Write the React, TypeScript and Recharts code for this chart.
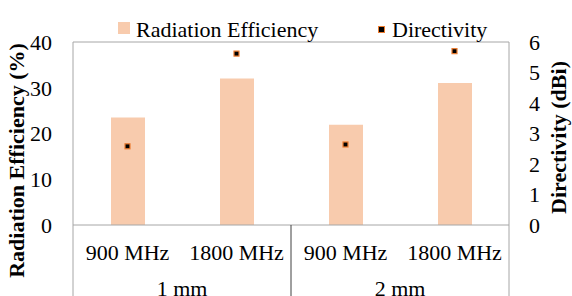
import {
  Bar,
  ComposedChart,
  ReferenceLine,
  Scatter,
  XAxis,
  YAxis,
} from "recharts";

const FREQUENCIES = ["900 MHz", "1800 MHz", "900 MHz", "1800 MHz"];
const THICKNESS = ["1 mm", "1 mm", "2 mm", "2 mm"];
const EFFICIENCY = [23.5, 32.0, 21.9, 31.05];
const DIRECTIVITY = [2.58, 5.62, 2.64, 5.7];
const LEFT_TICKS = [0, 10, 20, 30, 40];
const RIGHT_TICKS = [0, 1, 2, 3, 4, 5, 6];

const BAR_COLOR = "#F8CBAD";
const AXIS_COLOR = "#A6A6A6";
const FONT = "'Liberation Serif', 'Times New Roman', serif";
const FONT_SIZE = 22;

const data = FREQUENCIES.map((freq, i) => ({
  key: `${THICKNESS[i]}-${freq}`,
  freq,
  group: THICKNESS[i],
  efficiency: EFFICIENCY[i],
  directivity: DIRECTIVITY[i],
}));

function CategoryTick(props: any) {
  const { x, y, payload, index } = props;
  const half = payload?.offset ?? 54.5;
  const row = data[index];
  const isGroupStart = index === 0 || data[index - 1].group !== row.group;
  const axisY = y - 8;
  return (
    <g>
      <text x={x} y={y + 27} textAnchor="middle" fontSize={FONT_SIZE} style={{ fontFamily: FONT }} fill="#000">
        {row.freq}
      </text>
      {isGroupStart && (
        <>
          <line x1={x - half} y1={axisY} x2={x - half} y2={axisY + 80} stroke={index === 0 ? AXIS_COLOR : "#404040"} strokeWidth={1} />
          <text x={x + half} y={y + 63} textAnchor="middle" fontSize={FONT_SIZE} style={{ fontFamily: FONT }} fill="#000">
            {row.group}
          </text>
        </>
      )}
      {index === data.length - 1 && (
        <line x1={x + half} y1={axisY} x2={x + half} y2={axisY + 80} stroke={AXIS_COLOR} strokeWidth={1} />
      )}
    </g>
  );
}

function MarkerShape(props: any) {
  const { cx, cy } = props;
  return <rect x={cx - 2.5} y={cy - 2.5} width={5} height={5} fill="#000" stroke="#ED7D31" strokeWidth={1.2} />;
}

function LeftLabel(props: any) {
  const { viewBox } = props;
  const cx = viewBox.x + 16;
  const cy = viewBox.y + viewBox.height / 2 + 27;
  return (
    <text x={cx} y={cy} transform={`rotate(-90, ${cx}, ${cy})`} textAnchor="middle" dominantBaseline="central"
      fontSize={FONT_SIZE} fontWeight="bold" style={{ fontFamily: FONT }} fill="#000">
      Radiation Efficiency (%)
    </text>
  );
}

function RightLabel(props: any) {
  const { viewBox } = props;
  const cx = viewBox.x + 49;
  const cy = viewBox.y + viewBox.height / 2 + 4;
  return (
    <text x={cx} y={cy} transform={`rotate(-90, ${cx}, ${cy})`} textAnchor="middle" dominantBaseline="central"
      fontSize={FONT_SIZE} fontWeight="bold" style={{ fontFamily: FONT }} fill="#000">
      Directivity (dBi)
    </text>
  );
}

function ChartLegend() {
  return (
    <div style={{ position: "absolute", left: 0, top: 0, width: 572, height: 40, fontFamily: FONT, fontSize: FONT_SIZE, color: "#000" }}>
      <span style={{ position: "absolute", left: 118, top: 22, width: 12, height: 12, background: BAR_COLOR }} />
      <span style={{ position: "absolute", left: 136, top: 18, lineHeight: "24px", whiteSpace: "nowrap" }}>Radiation Efficiency</span>
      <span style={{ position: "absolute", left: 378, top: 26, width: 5, height: 5, background: "#000", border: "1px solid #ED7D31" }} />
      <span style={{ position: "absolute", left: 392, top: 18, lineHeight: "24px", whiteSpace: "nowrap" }}>Directivity</span>
    </div>
  );
}

const tickStyle = { fontSize: FONT_SIZE, fill: "#000", style: { fontFamily: FONT } };

export default function App() {
  return (
    <div style={{ position: "relative", width: 572, height: 296, background: "#fff", overflow: "hidden", fontFamily: FONT }}>
      <style>{`body{margin:0}`}</style>
      <ComposedChart
        width={572}
        height={296}
        data={data}
        margin={{ top: 42, right: 0, bottom: 0, left: 0 }}
      >
        <XAxis
          dataKey="key"
          xAxisId="cat"
          height={71}
          axisLine={{ stroke: AXIS_COLOR }}
          tickLine={false}
          interval={0}
          tick={<CategoryTick />}
        />
        <YAxis
          yAxisId="left"
          orientation="left"
          width={73}
          domain={[0, 40]}
          ticks={LEFT_TICKS}
          interval={0}
          axisLine={{ stroke: AXIS_COLOR }}
          tickLine={false}
          tick={tickStyle}
          tickMargin={15}
          label={<LeftLabel />}
        />
        <YAxis
          yAxisId="right"
          orientation="right"
          width={63}
          domain={[0, 6]}
          ticks={RIGHT_TICKS}
          interval={0}
          axisLine={{ stroke: AXIS_COLOR }}
          tickLine={false}
          tick={tickStyle}
          tickMargin={14}
          label={<RightLabel />}
        />
        <ReferenceLine yAxisId="left" xAxisId="cat" y={40} stroke={AXIS_COLOR} />
        <Bar
          xAxisId="cat"
          yAxisId="left"
          dataKey="efficiency"
          name="Radiation Efficiency"
          fill={BAR_COLOR}
          barSize={34}
          isAnimationActive={false}
        />
        <Scatter
          xAxisId="cat"
          yAxisId="right"
          dataKey="directivity"
          name="Directivity"
          shape={<MarkerShape />}
          isAnimationActive={false}
        />
      </ComposedChart>
      <ChartLegend />
    </div>
  );
}
